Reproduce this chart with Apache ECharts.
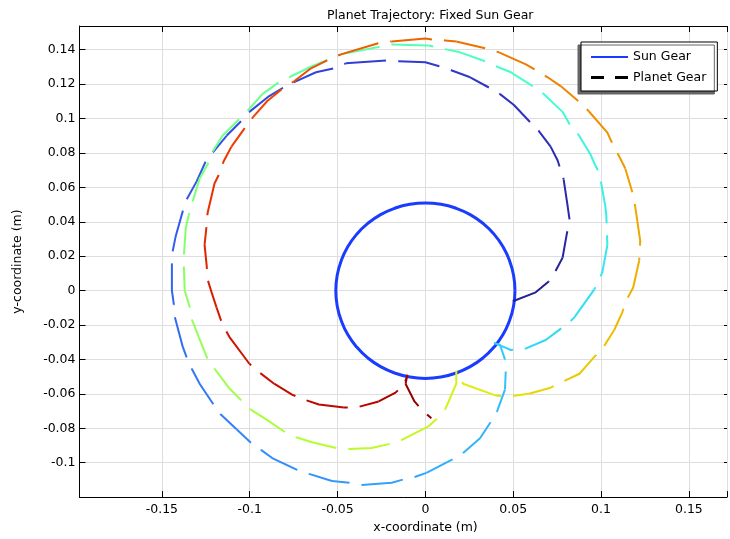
<!DOCTYPE html>
<html><head><meta charset="utf-8">
<script src="https://cdn.jsdelivr.net/npm/echarts@6/dist/echarts.min.js"></script>
<style>html,body{margin:0;padding:0;background:#fff}#c{width:730px;height:539px}</style>
</head><body><div id="c"></div>
<script>
// ---------------- data ----------------
const sunGearX = [0.0510,0.0502,0.0479,0.0442,0.0391,0.0328,0.0255,0.0174,0.0089,0,-0.0089,-0.0174,-0.0255,-0.0328,-0.0391,-0.0442,-0.0479,-0.0502,-0.0510,-0.0502,-0.0479,-0.0442,-0.0391,-0.0328,-0.0255,-0.0174,-0.0089,0,0.0089,0.0174,0.0255,0.0328,0.0391,0.0442,0.0479,0.0502,0.0510];
const sunGearY = [0,0.0089,0.0174,0.0255,0.0328,0.0391,0.0442,0.0479,0.0502,0.0510,0.0502,0.0479,0.0442,0.0391,0.0328,0.0255,0.0174,0.0089,0,-0.0089,-0.0174,-0.0255,-0.0328,-0.0391,-0.0442,-0.0479,-0.0502,-0.0510,-0.0502,-0.0479,-0.0442,-0.0391,-0.0328,-0.0255,-0.0174,-0.0089,0];

const planetGearX = [
0.0498,0.0628,0.0702,0.0736,0.0781,0.0804,0.0821,0.0809,0.0787,0.0753,
0.0713,0.0645,0.0600,0.0504,0.0425,0.0368,0.0255,0.0147,0.0079,0,
-0.0153,-0.0221,-0.0453,-0.0521,-0.0623,-0.0747,-0.0804,-0.0889,-0.1002,-0.1047,
-0.1132,-0.1211,-0.1251,-0.1302,-0.1364,-0.1381,-0.1421,-0.1438,-0.1443,-0.1443,
-0.1432,-0.1426,-0.1381,-0.1358,-0.1330,-0.1285,-0.1206,-0.1166,-0.1075,-0.0991,
-0.0934,-0.0872,-0.0730,-0.0662,-0.0532,-0.0425,-0.0362,-0.0192,-0.0113,-0.0057,
0.0006,0.0158,0.0215,0.0311,0.0374,0.0408,0.0453,0.0458,0.0458,0.0425,
0.0391,0.0487,0.0566,0.0685,0.0821,0.0849,0.0962,0.1007,0.1036,0.1030,
0.1024,0.0991,0.0968,0.0940,0.0872,0.0826,0.0781,0.0662,0.0611,0.0487,
0.0402,0.0340,0.0198,0.0091,0.0017,-0.0192,-0.0255,-0.0481,-0.0549,-0.0645,
-0.0764,-0.0832,-0.0928,-0.1013,-0.1058,-0.1155,-0.1211,-0.1234,-0.1285,-0.1324,
-0.1347,-0.1364,-0.1375,-0.1375,-0.1370,-0.1341,-0.1330,-0.1290,-0.1240,-0.1200,
-0.1115,-0.1047,-0.0996,-0.0906,-0.0798,-0.0736,-0.0645,-0.0504,-0.0436,-0.0306,
-0.0209,-0.0136,0.0017,0.0068,0.0113,0.0176,0.0176,0.0215,0.0402,0.0476,
0.0595,0.0713,0.0770,0.0877,0.0962,0.1007,0.1075,0.1121,0.1138,0.1183,
0.1217,0.1223,0.1194,0.1183,0.1138,0.1104,0.1070,0.1036,0.0929,0.0877,
0.0770,0.0696,0.0640,0.0572,0.0419,0.0345,0.0176,0.0113,0.0045,0,
-0.0192,-0.0255,-0.0481,-0.0549,-0.0651,-0.0747,-0.0810,-0.0900,-0.0980,-0.1019,
-0.1104,-0.1149,-0.1172,-0.1200,-0.1240,-0.1245,-0.1257,-0.1245,-0.1240,-0.1217,
-0.1189,-0.1166,-0.1138,-0.1115,-0.1002,-0.0951,-0.0861,-0.0759,-0.0691,-0.0606,
-0.0464,-0.0391,-0.0266,-0.0170,-0.0119,-0.0102,-0.0113,-0.0062,-0.0017,0.0034];
const planetGearY = [
-0.0062,-0.0010,0.0053,0.0105,0.0191,0.0324,0.0410,0.0497,0.0647,0.0756,
0.0837,0.0929,0.0975,0.1079,0.1142,0.1177,0.1240,0.1281,0.1304,0.1327,
0.1333,0.1338,0.1321,0.1292,0.1269,0.1212,0.1183,0.1131,0.1039,0.0987,
0.0900,0.0802,0.0750,0.0635,0.0520,0.0462,0.0318,0.0232,0.0157,0.0001,
-0.0080,-0.0154,-0.0327,-0.0391,-0.0454,-0.0541,-0.0662,-0.0719,-0.0806,-0.0886,
-0.0927,-0.0973,-0.1042,-0.1065,-0.1106,-0.1117,-0.1129,-0.1117,-0.1094,-0.1082,
-0.1059,-0.0979,-0.0944,-0.0858,-0.0760,-0.0702,-0.0575,-0.0460,-0.0414,-0.0316,
-0.0304,-0.0345,-0.0339,-0.0287,-0.0183,-0.0154,0.0007,0.0105,0.0266,0.0439,
0.0491,0.0681,0.0727,0.0791,0.0906,0.0958,0.1039,0.1154,0.1189,0.1269,
0.1304,0.1333,0.1385,0.1408,0.1425,0.1431,0.1419,0.1373,0.1344,0.1304,
0.1246,0.1212,0.1142,0.1044,0.0998,0.0900,0.0808,0.0745,0.0652,0.0520,
0.0439,0.0364,0.0203,0.0134,0.0001,-0.0097,-0.0166,-0.0270,-0.0397,-0.0454,
-0.0569,-0.0639,-0.0690,-0.0748,-0.0823,-0.0852,-0.0881,-0.0915,-0.0921,-0.0915,
-0.0892,-0.0869,-0.0789,-0.0742,-0.0690,-0.0541,-0.0466,-0.0541,-0.0610,-0.0616,
-0.0598,-0.0564,-0.0535,-0.0483,-0.0385,-0.0339,-0.0229,-0.0126,-0.0068,0.0018,
0.0174,0.0289,0.0491,0.0554,0.0710,0.0779,0.0843,0.0918,0.1044,0.1096,
0.1189,0.1240,0.1275,0.1315,0.1385,0.1408,0.1448,0.1454,0.1459,0.1465,
0.1448,0.1442,0.1373,0.1344,0.1292,0.1217,0.1177,0.1102,0.1010,0.0958,
0.0837,0.0750,0.0681,0.0624,0.0451,0.0382,0.0266,0.0145,0.0065,-0.0010,
-0.0097,-0.0166,-0.0229,-0.0270,-0.0425,-0.0471,-0.0541,-0.0604,-0.0633,-0.0662,
-0.0679,-0.0679,-0.0644,-0.0593,-0.0541,-0.0489,-0.0541,-0.0644,-0.0696,-0.0742];

const xTickLabels = [-0.15,-0.1,-0.05,0,0.05,0.1,0.15];
const yTickLabels = [-0.1,-0.08,-0.06,-0.04,-0.02,0,0.02,0.04,0.06,0.08,0.1,0.12,0.14];

// ---------------- styling ----------------
const FONT = 'DejaVu Sans';
const X_MIN = -0.1969, X_MAX = 0.1717, Y_MIN = -0.12, Y_MAX = 0.1538;
const cmap = [
 [0.00,'#24208f'],[0.05,'#2d2db8'],[0.11,'#3340d8'],[0.18,'#3360f0'],[0.25,'#3390fa'],
 [0.32,'#33c0ff'],[0.37,'#33e8f0'],[0.42,'#44ffd0'],[0.48,'#66ff99'],[0.54,'#88ff66'],
 [0.60,'#b0ff33'],[0.655,'#ddee11'],[0.69,'#eec200'],[0.74,'#ee9a00'],[0.80,'#ee6a00'],
 [0.86,'#ee3a00'],[0.93,'#cc1000'],[0.975,'#aa0000'],[1.00,'#880000']];
function hex2rgb(h){return [1,3,5].map(i=>parseInt(h.substr(i,2),16));}
function colorAt(t){
  for(let i=1;i<cmap.length;i++){
    if(t<=cmap[i][0]){
      const a=cmap[i-1],b=cmap[i];const f=(t-a[0])/(b[0]-a[0]);
      const ca=hex2rgb(a[1]),cb=hex2rgb(b[1]);
      const c=ca.map((v,k)=>Math.round(v+(cb[k]-v)*f));
      return 'rgb('+c.join(',')+')';
    }
  }
  return cmap[cmap.length-1][1];
}
function fmt(list){return v=>{const m=list.find(t=>Math.abs(t-v)<1e-7);return m===undefined?'':String(m);};}

const chart = echarts.init(document.getElementById('c'));
const lbl = {fontFamily:FONT,fontSize:12.5,color:'#000'};
const base = {
  animation:false,
  backgroundColor:'#fff',
  title:{text:'Planet Trajectory: Fixed Sun Gear',left:322,top:4,
    textStyle:{fontFamily:FONT,fontSize:12.5,fontWeight:'normal',color:'#000'}},
  grid:{left:79.5,right:0,top:26,bottom:38},
  legend:{
    data:[{name:'Sun Gear',icon:'path://M0,0h37v2.2h-37z'},
          {name:'Planet Gear',icon:'path://M0,0h13v2.8h-13zM24,0h13v2.8h-13z'}],
    orient:'vertical',left:581,top:42,symbolKeepAspect:true,
    padding:[8.5,11,7,10],itemWidth:37,itemHeight:14,itemGap:7.5,
    itemStyle:{borderWidth:0},
    textStyle:{fontFamily:FONT,fontSize:12.5,color:'#000'},
    backgroundColor:'#fff',borderColor:'#000',borderWidth:1,
    shadowColor:'#666',shadowBlur:0,shadowOffsetX:-3,shadowOffsetY:3,selectedMode:false},
  xAxis:[
   {type:'value',position:'bottom',min:X_MIN,max:X_MAX,splitNumber:7,
    axisLine:{onZero:false,lineStyle:{color:'#000',width:1}},
    axisTick:{inside:true,length:6,lineStyle:{color:'#000'}},
    axisLabel:Object.assign({formatter:fmt(xTickLabels),margin:6},lbl),
    splitLine:{show:true,lineStyle:{color:'#dedede',width:1}},
    name:'x-coordinate (m)',nameLocation:'middle',nameGap:19,
    nameTextStyle:Object.assign({padding:[0,0,0,44.5]},lbl)},
   {type:'value',position:'top',min:X_MIN,max:X_MAX,splitNumber:7,
    axisLine:{onZero:false,lineStyle:{color:'#000',width:1}},
    axisTick:{inside:true,length:6,lineStyle:{color:'#000'}},
    axisLabel:{show:false},splitLine:{show:false}}],
  yAxis:[
   {type:'value',position:'left',min:Y_MIN,max:Y_MAX,splitNumber:14,
    axisLine:{onZero:false,lineStyle:{color:'#000',width:1}},
    axisTick:{inside:true,length:6,lineStyle:{color:'#000'}},
    axisLabel:Object.assign({formatter:fmt(yTickLabels),margin:4},lbl),
    splitLine:{show:true,lineStyle:{color:'#dedede',width:1}},
    name:'y-coordinate (m)',nameLocation:'middle',nameGap:55,nameTextStyle:lbl},
   {type:'value',position:'right',min:Y_MIN,max:Y_MAX,splitNumber:14,
    axisLine:{show:false,onZero:false},
    axisTick:{inside:true,length:3,lineStyle:{color:'#000'}},
    axisLabel:{show:false},splitLine:{show:false}}],
  series:[
   {type:'line',name:'Sun Gear',data:sunGearX.map((x,i)=>[x,sunGearY[i]]),
    smooth:0.5,symbol:'none',z:3,lineStyle:{color:'#1a3cff',width:3},itemStyle:{color:'#1a3cff'}},
   {type:'line',name:'Planet Gear',data:[],symbol:'none',
    lineStyle:{color:'#000',width:2.5,type:[13,11]},itemStyle:{color:'#000'}}]
};
chart.setOption(base);

// planet trajectory, coloured along its path; dash phase kept continuous across pieces
const n = planetGearX.length;
const px = planetGearX.map((x,i)=>chart.convertToPixel({gridIndex:0},[x,planetGearY[i]]));
const cum=[0];
for(let i=1;i<n;i++){cum[i]=cum[i-1]+Math.hypot(px[i][0]-px[i-1][0],px[i][1]-px[i-1][1]);}
const CH=2, pieces=[];
for(let s=0;s<n-1;s+=CH){
  const e=Math.min(s+CH,n-1);
  const d=[];for(let k=s;k<=e;k++)d.push([planetGearX[k],planetGearY[k]]);
  const col=colorAt(((s+e)/2)/(n-1));
  pieces.push({type:'line',name:'pg'+s,data:d,symbol:'none',silent:true,z:4,
    lineStyle:{color:col,width:2,type:[42,12],dashOffset:cum[s]},itemStyle:{color:col}});
}
chart.setOption({series:base.series.concat(pieces)});
</script></body></html>
